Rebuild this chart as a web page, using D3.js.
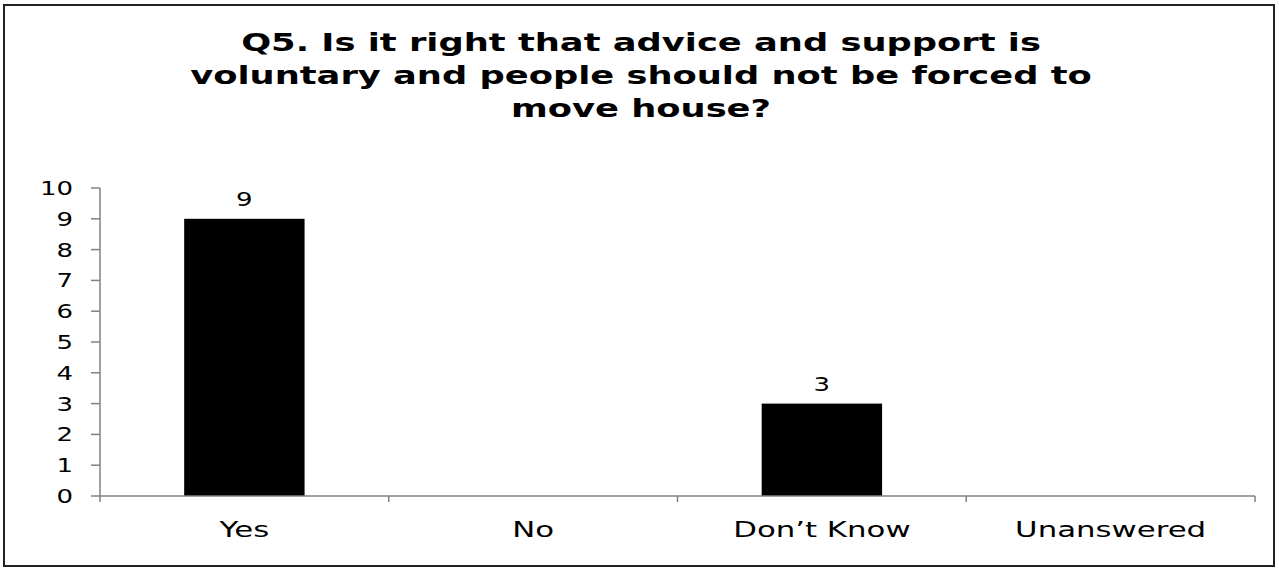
<!DOCTYPE html>
<html><head><meta charset="utf-8">
<script src="https://cdn.jsdelivr.net/npm/d3@7"></script>
<style>body{margin:0;background:#fff}svg{display:block}</style>
</head><body>
<script>
const categories = ["Yes", "No", "Don\u2019t Know", "Unanswered"];
const values = [9, 0, 3, 0];
const yTicks = [0,1,2,3,4,5,6,7,8,9,10];
const titleLines = ["Q5. Is it right that advice and support is", "voluntary and people should not be forced to", "move house?"];

const W = 1279, H = 568;
const svg = d3.select("body").append("svg").attr("width", W).attr("height", H);
svg.append("rect").attr("x",4).attr("y",5).attr("width",1270).attr("height",561)
  .attr("fill","#fff").attr("stroke","#222").attr("stroke-width",2);

const m = {left:100, right:1255, top:188, bottom:496};
const x = d3.scaleBand().domain(categories).range([m.left, m.right]).paddingInner(0.583).paddingOuter(0.2915);
const y = d3.scaleLinear().domain([0,10]).range([m.bottom, m.top]);

const font = "'DejaVu Sans', Verdana, sans-serif";
function stretchText(parent, tx, ty, sx, txt, size, anchor, weight){
  const g = parent.append("g").attr("transform",`translate(${tx},${ty}) scale(${sx},1)`);
  return g.append("text").attr("text-anchor",anchor).attr("font-family",font)
    .attr("font-size",size).attr("font-weight",weight||"normal").attr("fill","#000").text(txt);
}

// title: fit second line width to reference width
const tg = svg.append("g");
const tmp = tg.append("text").attr("font-family",font).attr("font-weight","bold").attr("font-size",25).text(titleLines[1]);
const tw = tmp.node().getComputedTextLength(); tmp.remove();
const tsx = 902 / tw;
titleLines.forEach((t,i)=> stretchText(tg, 641, 51 + i*33, tsx, t, 25, "middle", "bold"));

// y axis
svg.append("line").attr("x1",m.left).attr("x2",m.left).attr("y1",m.top).attr("y2",m.bottom+6)
  .attr("stroke","#808080").attr("stroke-width",1.5);
svg.selectAll("line.yt").data(yTicks).enter().append("line")
  .attr("x1",m.left-9).attr("x2",m.left).attr("y1",d=>y(d)).attr("y2",d=>y(d))
  .attr("stroke","#808080").attr("stroke-width",1.5);
yTicks.forEach(v=> stretchText(svg, 73, y(v)+7, 1.3, v, 20, "end"));

// bars
const data = values.map((v,i)=>({c:categories[i],v})).filter(d=>d.v>0);
svg.selectAll("rect.bar").data(data).enter()
  .append("rect").attr("class","bar")
  .attr("x",d=>x(d.c)).attr("width",x.bandwidth())
  .attr("y",d=>y(d.v)).attr("height",d=>y(0)-y(d.v)).attr("fill","#000");
data.forEach(d=> stretchText(svg, x(d.c)+x.bandwidth()/2, y(d.v)-13, 1.3, d.v, 20, "middle"));

// x axis
svg.append("line").attr("x1",m.left).attr("x2",m.right).attr("y1",m.bottom).attr("y2",m.bottom)
  .attr("stroke","#808080").attr("stroke-width",1.5);
const step = x.step();
const bounds = d3.range(1, categories.length+1).map(i=>m.left + i*step);
svg.selectAll("line.xt").data(bounds).enter().append("line")
  .attr("x1",d=>d).attr("x2",d=>d).attr("y1",m.bottom).attr("y2",m.bottom+6)
  .attr("stroke","#808080").attr("stroke-width",1.5);
categories.forEach(c=> stretchText(svg, x(c)+x.bandwidth()/2, 537, 1.4, c, 22, "middle"));
</script>
</body></html>
